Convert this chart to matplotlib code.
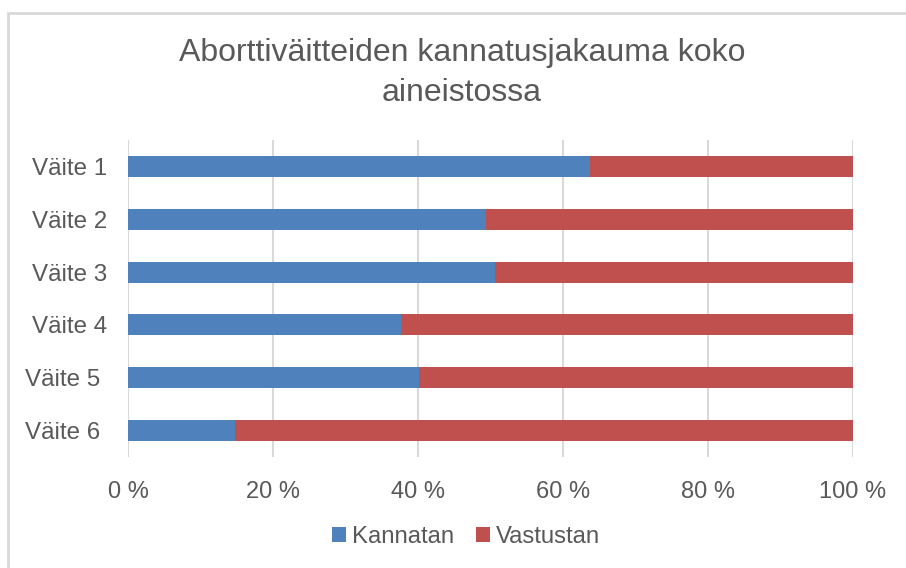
import matplotlib.pyplot as plt
from matplotlib.patches import Rectangle

plt.rcParams['font.family'] = ['Liberation Sans', 'DejaVu Sans']

# data
vaitteet = ["Väite 1", "Väite 2", "Väite 3", "Väite 4", "Väite 5 ", "Väite 6 "]
kannatan = [63.7, 49.4, 50.6, 37.7, 40.1, 14.8]
vastustan = [100 - k for k in kannatan]
xticks = [0, 20, 40, 60, 80, 100]
xticklabels = ["0 %", "20 %", "40 %", "60 %", "80 %", "100 %"]

blue = "#4F81BD"
red = "#C0504D"
txt = "#595959"
grid = "#D9D9D9"

fig = plt.figure(figsize=(9.06, 5.68), dpi=100)
# chart area border (top and left edge visible)
fig.patches.append(Rectangle((8/906, -0.1), 1.2, 1 - 13/568 + 0.1, transform=fig.transFigure,
                             fill=False, edgecolor="#D9D9D9", lw=2))

ax = fig.add_axes([128/906, 1 - 457/568, 725/906, 317/568])
y = list(range(len(vaitteet)))
ax.barh(y, kannatan, height=0.4, color=blue, label="Kannatan", zorder=3)
ax.barh(y, vastustan, left=kannatan, height=0.4, color=red, label="Vastustan", zorder=3)

ax.set_xlim(0, 100)
ax.set_ylim(len(vaitteet) - 0.5, -0.5)
ax.set_yticks(y)
ax.set_yticklabels(vaitteet, fontsize=17.4, color=txt)
ax.set_xticks(xticks)
ax.set_xticklabels(xticklabels, fontsize=17, color=txt)
ax.tick_params(length=0)
ax.tick_params(axis='x', pad=17)
ax.tick_params(axis='y', pad=15)
ax.grid(axis='x', color=grid, lw=1.5, zorder=0)
for s in ax.spines.values():
    s.set_visible(False)

fig.text(462/906, 1 - 73/568, "Aborttiväitteiden kannatusjakauma koko\naineistossa",
         ha='center', va='center', fontsize=23, color=txt, linespacing=1.42)

fig.legend(loc='center', bbox_to_anchor=(466/906, 1 - 537/568), ncol=2, frameon=False,
           fontsize=17.2, labelcolor=txt, handlelength=0.6, handleheight=0.6,
           handletextpad=0.25, columnspacing=0.9)

fig.savefig("out.png", dpi=100, facecolor="white")
